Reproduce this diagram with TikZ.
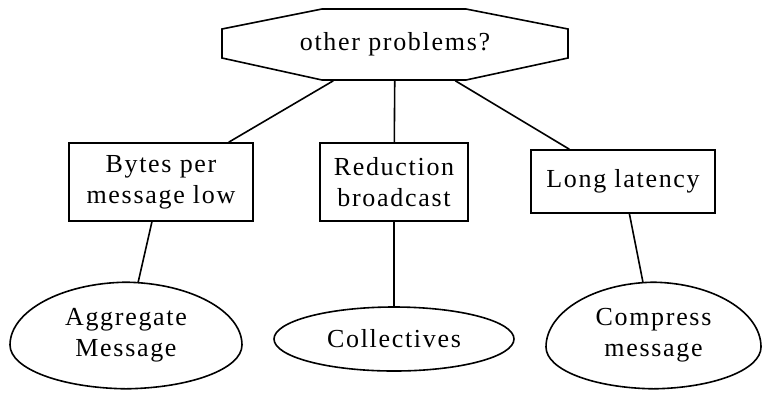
\documentclass[tikz,border=0pt]{standalone}
\usepackage{fontspec}
\setmainfont{Liberation Serif}[LetterSpace=6.5]
\usetikzlibrary{shapes.geometric}

\begin{document}
\begin{tikzpicture}[x=0.5pt,y=-0.5pt,line width=0.8pt,
    every node/.style={font=\fontsize{13}{15.5}\selectfont, align=center, inner sep=0pt},
    prob/.style={draw, rectangle, minimum width=92pt, minimum height=39pt},
    egg/.style={ellipse, minimum width=116pt, minimum height=52.5pt}]
	\useasboundingbox (0,0) rectangle (763,392);

	\node[minimum width=173pt, minimum height=35.5pt] (q) at (395,44.5) {other problems?};
	\draw (322,9) -- (466,9) -- (568,29) -- (568,58) -- (466,80) -- (322,80) -- (222,58) -- (222,29) -- cycle;

	\node[prob] (b1) at (161,182) {Bytes per\\message low};
	\node[prob, minimum width=74pt] (b2) at (394,182) {Reduction\\broadcast};
	\node[prob, minimum height=31.5pt] (b3) at (623,181.5) {Long latency};

	\node[egg] (e1) at (126,335.5) {Aggregate\\Message};
	\node[draw, ellipse, minimum width=120pt, minimum height=32pt] (e2) at (394,339) {Collectives};
	\node[egg, minimum width=107.5pt] (e3) at (653.5,335.5) {Compress\\message};

	% egg outlines, wider below the middle
	\draw (e1.north) .. controls (62,283) and (10,311) .. (10,345) .. controls (10,369) and (62,388) .. (e1.south)
		.. controls (190,388) and (242,369) .. (242,345) .. controls (242,311) and (190,283) .. (e1.north);
	\draw (e3.north) .. controls (594,283) and (546,312) .. (546,347) .. controls (546,370) and (594,388) .. (e3.south)
		.. controls (713,388) and (761,370) .. (761,347) .. controls (761,312) and (713,283) .. (e3.north);

	\draw (q) -- (b1);
	\draw (q) -- (b2);
	\draw (q) -- (b3);
	\draw (b1) -- (e1);
	\draw (b2) -- (e2);
	\draw (b3) -- (e3);
\end{tikzpicture}
\end{document}
